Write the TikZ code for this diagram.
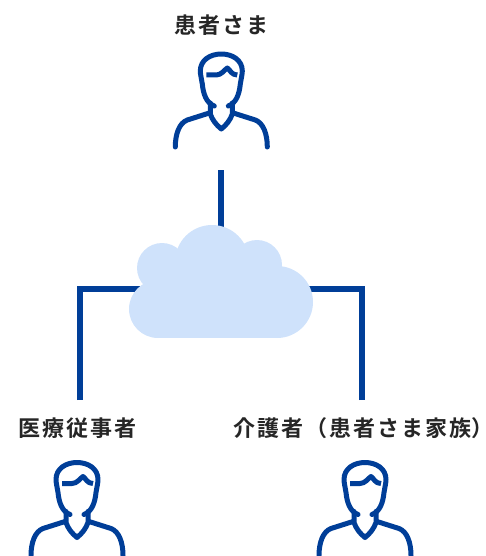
\documentclass[tikz,border=0pt]{standalone}
\usepackage{fontspec}
\newfontfamily\jpfont[LetterSpace=9]{Noto Sans CJK JP Bold}
\newfontfamily\jphalf[RawFeature=+halt]{Noto Sans CJK JP Bold}
\definecolor{linkblue}{HTML}{003E98}
\definecolor{cloudblue}{HTML}{CFE2FB}
\tikzset{
	link/.style={draw=linkblue,line width=5.4pt},
	iconline/.style={draw=linkblue,line width=5pt,line cap=round,line join=round},
	namelabel/.style={text=black!85,font=\jpfont\fontsize{22}{26}\selectfont,inner sep=0pt},
	person/.pic={
		\draw[iconline] (-7,52) .. controls (-15,49) and (-18,40) .. (-19,30)
			.. controls (-20,24) and (-21,20) .. (-21,17)
			.. controls (-21,6) and (-11,0) .. (0,0)
			.. controls (11,0) and (21,6) .. (21,17)
			.. controls (21,20) and (20,24) .. (19,30)
			.. controls (18,40) and (15,49) .. (7,52);
		\draw[iconline] (-11,49) -- (-11,60) .. controls (-9,66) and (-5,71) .. (0,75)
			.. controls (5,71) and (9,66) .. (11,60) -- (11,49);
		\draw[iconline] (-46,93) .. controls (-46,80) and (-42,69) .. (-34,66) -- (-12,59);
		\draw[iconline] (46,93) .. controls (46,80) and (42,69) .. (34,66) -- (12,59);
		\draw[iconline,line cap=butt] (-15,21) -- (-5,21) .. controls (0,21) and (3,16) .. (6,14)
			.. controls (9,16) and (10,21) .. (16,21);
	}
}
\begin{document}
\begin{tikzpicture}[x=1pt,y=-1pt]
	\useasboundingbox (0,0) rectangle (485,556);
	\clip (0,0) rectangle (485,556);
	\node[namelabel] (patient) at (221.5,25) {患者さま};
	\node[namelabel] (staff) at (77.5,428) {医療従事者};
	\node[namelabel,anchor=west] (carer) at (233,428) {介護者（患者さま家族{\jphalf\fontsize{22}{26}\selectfont ）}};
	\pic at (221.3,54) {person};
	\pic at (77,462.5) {person};
	\pic at (365,462.5) {person};
	% links run under the cloud
	\coordinate (cloud) at (221,289);
	\coordinate (top) at (221,170);
	\coordinate (left) at (80,400);
	\coordinate (right) at (362,400);
	\draw[link] (top) -- (cloud);
	\draw[link] (left) |- (cloud);
	\draw[link] (right) |- (cloud);
	\foreach \c/\r in {{277,302}/36,{158,309}/29,{162,268}/25,{212,262}/37,{257,265}/25}
		\fill[cloudblue] (\c) circle (\r);
	\fill[cloudblue] (158,270) rectangle (277,338);
\end{tikzpicture}
\end{document}
